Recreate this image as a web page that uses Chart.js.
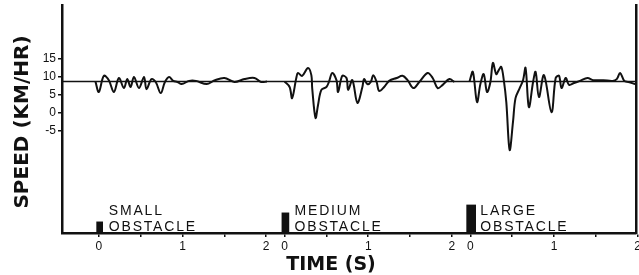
<!DOCTYPE html>
<html>
<head>
<meta charset="utf-8">
<script src="https://cdn.jsdelivr.net/npm/chart.js@4"></script>
<style>
  html, body { margin: 0; padding: 0; background: #fff; }
  .wrap { width: 639px; height: 275px; position: relative; }
</style>
</head>
<body>
<div class="wrap"><canvas id="speedChart"></canvas></div>
<script>
// three runs, each with its own 0..2 s time base
const obstacleNames = [['SMALL', 'OBSTACLE'], ['MEDIUM', 'OBSTACLE'], ['LARGE', 'OBSTACLE']];
const obstacleHeight = [3.1, 5.6, 7.8];   // km/hr units above the axis floor
const segmentStart = [0, 2.22, 4.44];    // where each run's 0 s sits on the time axis

const smallTime  = [-0.04, 0.00, 0.06, 0.12, 0.18, 0.24, 0.30, 0.34, 0.38, 0.42, 0.48, 0.54, 0.57, 0.63, 0.68, 0.74, 0.79, 0.84, 0.89, 0.94, 0.99, 1.08, 1.16, 1.29, 1.38, 1.50, 1.62, 1.74, 1.86, 1.94, 2.01];
const smallSpeed = [8.7, 5.8, 10.3, 9.1, 5.8, 9.7, 6.9, 9.4, 7.2, 10.0, 6.9, 10.0, 6.6, 9.4, 8.6, 5.5, 8.6, 10.0, 8.9, 8.6, 8.0, 8.9, 8.9, 8.0, 9.0, 9.7, 8.6, 9.4, 9.7, 8.6, 8.7];

const mediumTime  = [0.00, 0.06, 0.09, 0.14, 0.16, 0.21, 0.28, 0.32, 0.33, 0.37, 0.40, 0.44, 0.50, 0.53, 0.57, 0.62, 0.64, 0.69, 0.74, 0.76, 0.81, 0.87, 0.93, 0.95, 0.99, 1.03, 1.06, 1.10, 1.13, 1.19, 1.25, 1.34, 1.41, 1.47, 1.54, 1.61, 1.71, 1.77, 1.83, 1.89, 1.97, 2.03];
const mediumSpeed = [8.7, 7.2, 4.1, 9.7, 11.1, 10.3, 12.5, 10.5, 6.9, -1.4, 2.2, 6.4, 7.2, 8.6, 11.1, 9.1, 5.8, 10.3, 9.7, 6.4, 9.1, 2.8, 7.2, 9.4, 8.0, 8.6, 10.5, 8.6, 6.1, 7.2, 8.9, 9.7, 10.3, 9.1, 6.9, 8.6, 11.1, 9.7, 6.9, 7.8, 9.4, 8.6];

const largeTime  = [-0.01, 0.03, 0.08, 0.12, 0.16, 0.20, 0.24, 0.27, 0.31, 0.34, 0.37, 0.40, 0.43, 0.47, 0.51, 0.54, 0.59, 0.63, 0.66, 0.70, 0.75, 0.78, 0.82, 0.88, 0.97, 1.02, 1.06, 1.09, 1.14, 1.18, 1.24, 1.31, 1.40, 1.47, 1.59, 1.70, 1.75, 1.79, 1.84, 1.89, 1.97];
const largeSpeed = [8.7, 11.4, 3.0, 8.0, 10.8, 5.8, 8.6, 13.9, 10.8, 11.9, 12.8, 9.1, 3.0, -10.3, -2.5, 4.1, 6.9, 9.1, 12.5, 1.6, 8.6, 11.4, 4.4, 10.5, 0.2, 9.7, 10.3, 6.9, 9.7, 7.8, 8.3, 8.9, 9.7, 9.1, 9.1, 8.9, 9.4, 11.1, 8.9, 8.6, 8.0];

const referenceSpeed = 8.7;
const yTicks = [-5, 0, 5, 10, 15];
const xTickTimes  = [0, 0.5, 1, 1.5, 2];
const xTickLabels = ['0', '', '1', '', '2'];

const Y_MIN = -33.4, Y_MAX = 30;
const X_MIN = -0.44, X_MAX = 6.42;
const INK = '#111';

const runs = [[smallTime, smallSpeed], [mediumTime, mediumSpeed], [largeTime, largeSpeed]];

const traceSets = runs.map(([t, v], i) => ({
  type: 'line',
  data: t.map((tt, j) => ({ x: tt + segmentStart[i], y: v[j] })),
  borderColor: INK,
  borderWidth: 2,
  pointRadius: 0,
  tension: 0.35,
  fill: false,
}));

const barWidths = [6, 7, 9];
const obstacleSets = obstacleHeight.map((h, i) => ({
  type: 'bar',
  data: [{ x: segmentStart[i] + 0.01, y: [Y_MIN, Y_MIN + h] }],
  backgroundColor: INK,
  barThickness: barWidths[i],
  grouped: false,
  borderRadius: { topLeft: 3, topRight: 3 },
  borderSkipped: 'start',
}));

const refLine = {
  type: 'line',
  data: [{ x: X_MIN, y: referenceSpeed }, { x: X_MAX, y: referenceSpeed }],
  borderColor: INK,
  borderWidth: 1.5,
  pointRadius: 0,
};

const xTicksAll = [];
const xLabelsAll = [];
segmentStart.forEach(s => {
  xTickTimes.forEach((t, k) => { xTicksAll.push(s + t); xLabelsAll.push(xTickLabels[k]); });
});

const textPlugin = {
  id: 'figureText',
  afterDatasetsDraw(chart) {
    const { ctx, scales: { x }, chartArea } = chart;
    ctx.save();
    ctx.fillStyle = INK;
    ctx.font = '14px "Liberation Sans", Arial, sans-serif';
    ctx.letterSpacing = '1.8px';
    ctx.textAlign = 'left';
    ctx.textBaseline = 'alphabetic';
    obstacleNames.forEach((lines, i) => {
      const px = x.getPixelForValue(segmentStart[i]) + 10;
      ctx.fillText(lines[0], px, chartArea.bottom - 18);
      ctx.fillText(lines[1], px, chartArea.bottom - 2);
    });
    ctx.letterSpacing = '0px';
    ctx.font = 'bold 19px "DejaVu Sans", sans-serif';
    ctx.textAlign = 'center';
    ctx.fillText('TIME (S)', 331, 270);
    ctx.font = 'bold 20px "DejaVu Sans", sans-serif';
    ctx.translate(28, 122);
    ctx.rotate(-Math.PI / 2);
    ctx.fillText('SPEED (KM/HR)', 0, 0);
    ctx.restore();
  }
};

new Chart(document.getElementById('speedChart'), {
  type: 'line',
  data: { datasets: [refLine, ...traceSets, ...obstacleSets] },
  plugins: [textPlugin],
  options: {
    responsive: true,
    maintainAspectRatio: false,
    animation: false,
    layout: { padding: { top: 5, right: 0, bottom: 0, left: 0 } },
    plugins: { legend: { display: false }, tooltip: { enabled: false } },
    scales: {
      x: {
        type: 'linear',
        min: X_MIN,
        max: X_MAX,
        offset: false,
        afterBuildTicks(s) { s.ticks = xTicksAll.map(v => ({ value: v })); },
        afterFit(s) { s.height = 42; s.paddingLeft = 0; s.paddingRight = 0; },
        ticks: {
          color: INK,
          font: { family: 'Liberation Sans', size: 12 },
          padding: 2,
          maxRotation: 0,
          autoSkip: false,
          callback: (val, idx) => xLabelsAll[idx],
        },
        grid: { drawOnChartArea: false, drawTicks: true, tickLength: 4, color: INK, lineWidth: 1.5, offset: false },
        border: { display: true, color: INK, width: 2.5 },
      },
      y: {
        type: 'linear',
        min: Y_MIN,
        max: Y_MAX,
        afterBuildTicks(s) { s.ticks = yTicks.map(v => ({ value: v })); },
        afterFit(s) { s.width = 62; s.paddingTop = 0; s.paddingBottom = 0; },
        ticks: { color: INK, font: { family: 'Liberation Sans', size: 12 }, padding: 2 },
        grid: { drawOnChartArea: false, drawTicks: true, tickLength: 4, color: INK, lineWidth: 1.5 },
        border: { display: true, color: INK, width: 2.5 },
      },
      y2: {
        type: 'linear',
        position: 'right',
        min: Y_MIN,
        max: Y_MAX,
        afterFit(s) { s.width = 3; },
        ticks: { display: false },
        grid: { display: false, drawTicks: false },
        border: { display: true, color: INK, width: 2.5 },
      },
    },
  },
});
</script>
</body>
</html>
